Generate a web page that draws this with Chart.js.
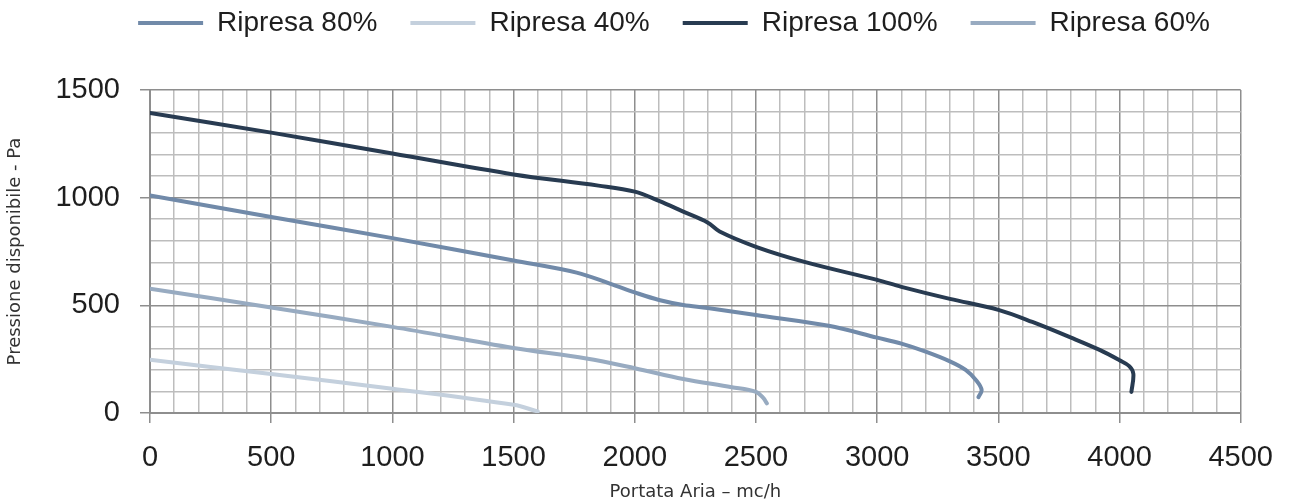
<!DOCTYPE html>
<html>
<head>
<meta charset="utf-8">
<script src="https://cdn.jsdelivr.net/npm/chart.js@4.4.0/dist/chart.umd.min.js"></script>
<style>
  html, body { margin: 0; padding: 0; background: #fff; }
  #wrap { width: 1291px; height: 503px; }
</style>
</head>
<body>
<div id="wrap"><canvas id="myChart"></canvas></div>
<script>
/*  fan curves: available pressure vs air flow  */

// Ripresa 80%
const flow80  = [0, 500, 1000, 1500, 1760, 1900, 2000, 2100, 2200, 2300, 2500, 2800, 3000, 3100, 3200, 3300, 3365, 3410, 3431, 3418];
const press80 = [1010, 910, 812, 708, 652, 600, 560, 525, 502, 488, 455, 405, 350, 322, 285, 240, 200, 150, 107, 74];

// Ripresa 40%
const flow40  = [0, 500, 1000, 1500, 1600];
const press40 = [247, 181, 113, 38, 7];

// Ripresa 100%
const flow100  = [0, 500, 1000, 1500, 1850, 2000, 2100, 2200, 2300, 2350, 2500, 2700, 3000, 3100, 3300, 3500, 3640, 3800, 3920, 4000, 4040, 4057, 4049];
const press100 = [1393, 1302, 1205, 1108, 1056, 1028, 985, 935, 885, 843, 772, 702, 618, 586, 530, 479, 423, 350, 292, 245, 218, 182, 98];

// Ripresa 60%
const flow60  = [0, 500, 1000, 1500, 1800, 2000, 2200, 2400, 2500, 2530, 2545];
const press60 = [577, 490, 400, 302, 253, 208, 158, 120, 98, 70, 45];

const xTicks = [0, 500, 1000, 1500, 2000, 2500, 3000, 3500, 4000, 4500];
const yTicks = [0, 500, 1000, 1500];

function toPoints(xs, ys) {
    return xs.map((x, i) => ({x: x, y: ys[i]}));
}

const gridColor = (ctx, major) => {
    const v = Math.round(ctx.tick ? ctx.tick.value : 0);
    return major.includes(v) ? '#8e8e8e' : '#bdbdbd';
};
const tickMarkColor = (ctx, major) => {
    const v = Math.round(ctx.tick ? ctx.tick.value : 0);
    return major.includes(v) ? '#8e8e8e' : 'rgba(0,0,0,0)';
};

// nudge the legend row so it sits where the original one does
const legendShift = {
    id: 'legendShift',
    afterLayout(chart) {
        const lg = chart.legend;
        lg.left = 105;
        lg.top -= 43;
        lg.bottom -= 43;
    }
};

let ctx0 = document.getElementById('myChart').getContext('2d');
var chart = new Chart(ctx0, {
    type: 'line',
    data: {
        datasets: [{
            label: 'Ripresa 80%',
            borderColor: '#718aa9',
            backgroundColor: '#718aa9',
            borderWidth: 4,
            data: toPoints(flow80, press80)
        }, {
            label: 'Ripresa 40%',
            borderColor: '#c4d0dd',
            backgroundColor: '#c4d0dd',
            borderWidth: 4,
            data: toPoints(flow40, press40)
        }, {
            label: 'Ripresa 100%',
            borderColor: '#283b51',
            backgroundColor: '#283b51',
            borderWidth: 4,
            data: toPoints(flow100, press100)
        }, {
            label: 'Ripresa 60%',
            borderColor: '#98abc1',
            backgroundColor: '#98abc1',
            borderWidth: 4,
            data: toPoints(flow60, press60)
        }]
    },
    options: {
        responsive: true,
        maintainAspectRatio: false,
        animation: false,
        layout: {
            padding: {top: -23, right: 48, bottom: 0, left: 0}
        },
        elements: {
            line: {borderWidth: 4, tension: 0.35, borderCapStyle: 'round'},
            point: {radius: 0, hitRadius: 0, hoverRadius: 0}
        },
        plugins: {
            tooltip: {enabled: false},
            legend: {
                position: 'top',
                labels: {
                    usePointStyle: true,
                    pointStyle: 'line',
                    pointStyleWidth: 65,
                    padding: 33,
                    color: '#1e1e1e',
                    font: {family: 'Liberation Sans', size: 28}
                }
            }
        },
        scales: {
            x: {
                type: 'linear',
                min: 0,
                max: 4500,
                ticks: {
                    stepSize: 100,
                    autoSkip: false,
                    maxRotation: 0,
                    padding: 18,
                    color: '#1e1e1e',
                    font: {family: 'Liberation Sans', size: 29},
                    callback: v => xTicks.includes(Math.round(v)) ? String(Math.round(v)) : ''
                },
                grid: {
                    color: c => gridColor(c, xTicks),
                    lineWidth: 1.5,
                    tickLength: 10,
                    tickColor: c => tickMarkColor(c, xTicks)
                },
                border: {color: '#8e8e8e', width: 2},
                title: {
                    display: true,
                    text: 'Portata Aria – mc/h',
                    color: '#333',
                    font: {family: 'DejaVu Sans', size: 18},
                    padding: {top: 6, bottom: 0}
                },
                afterFit: function (scale) {
                    scale.height = 90;
                }
            },
            y: {
                min: 0,
                max: 1500,
                ticks: {
                    stepSize: 100,
                    autoSkip: false,
                    padding: 20,
                    color: '#1e1e1e',
                    font: {family: 'Liberation Sans', size: 29},
                    callback: v => yTicks.includes(Math.round(v)) ? String(Math.round(v)) : ''
                },
                grid: {
                    color: c => gridColor(c, yTicks),
                    lineWidth: 1.5,
                    tickLength: 10,
                    tickColor: c => tickMarkColor(c, yTicks)
                },
                border: {color: '#8e8e8e', width: 2},
                title: {
                    display: true,
                    text: 'Pressione disponibile - Pa',
                    color: '#333',
                    font: {family: 'DejaVu Sans', size: 18},
                    padding: {top: 5, bottom: 0}
                },
                afterFit: function (scale) {
                    scale.width = 150;
                    scale.paddingTop = 90;
                }
            }
        }
    },
    plugins: [legendShift]
});
</script>
</body>
</html>
